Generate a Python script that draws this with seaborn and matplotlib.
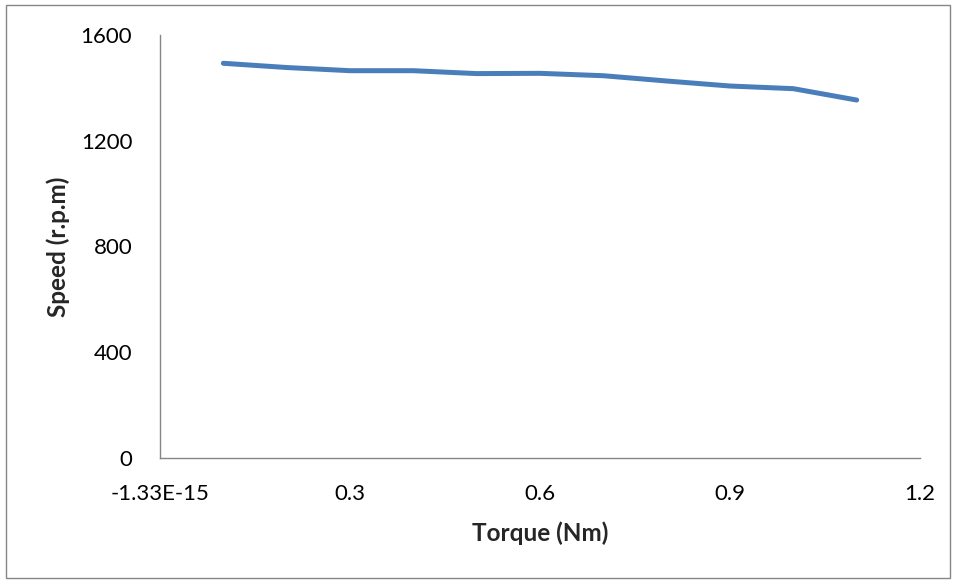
import matplotlib
matplotlib.use("Agg")
import matplotlib.pyplot as plt
import seaborn as sns
import pandas as pd
from matplotlib.patches import Rectangle

torque = [0.1, 0.2, 0.3, 0.4, 0.5, 0.6, 0.7, 0.8, 0.9, 1.0, 1.1]
speed = [1493, 1477, 1465, 1465, 1454, 1455, 1446, 1426, 1407, 1397, 1354]
x_ticks = [0, 0.3, 0.6, 0.9, 1.2]
x_tick_labels = ["-1.33E-15", "0.3", "0.6", "0.9", "1.2"]
y_ticks = [0, 400, 800, 1200, 1600]
x_label = "Torque (Nm)"
y_label = "Speed (r.p.m)"

sns.set_theme(style="white")
plt.rcParams["font.family"] = ["Lato", "DejaVu Sans"]

W, H = 954, 581
fig = plt.figure(figsize=(W / 100, H / 100), dpi=100)
ax = fig.add_axes([160 / W, 1 - 458 / H, (920 - 160) / W, (458 - 35) / H])

df = pd.DataFrame({"Torque": torque, "Speed": speed})
sns.lineplot(data=df, x="Torque", y="Speed", ax=ax, color="#4A7EBB",
             linewidth=3.6, solid_capstyle="round", solid_joinstyle="round")

ax.set_xlim(0, 1.2)
ax.set_ylim(0, 1600)
ax.set_xticks(x_ticks)
ax.set_xticklabels(x_tick_labels)
ax.set_yticks(y_ticks)
ax.tick_params(axis="both", length=0, labelsize=16, colors="black")
ax.tick_params(axis="x", pad=19)
ax.tick_params(axis="y", pad=20)

for s in ["top", "right"]:
    ax.spines[s].set_visible(False)
for s in ["left", "bottom"]:
    ax.spines[s].set_color("#868686")
    ax.spines[s].set_linewidth(1.0)
ax.grid(False)

ax.set_xlabel(x_label, fontsize=17.5, fontweight="bold")
ax.set_ylabel(y_label, fontsize=17.5, fontweight="bold")
ax.xaxis.set_label_coords(0.5, -(521 - 458) / 423)
ax.yaxis.set_label_coords(-(160 - 70) / 760, 0.5)

fig.patches.append(Rectangle((6 / W, 1 - 578 / H), (950 - 6) / W, (578 - 5) / H,
                             transform=fig.transFigure, fill=False,
                             edgecolor="#868686", linewidth=1.0))

fig.savefig("out.png", dpi=100)
